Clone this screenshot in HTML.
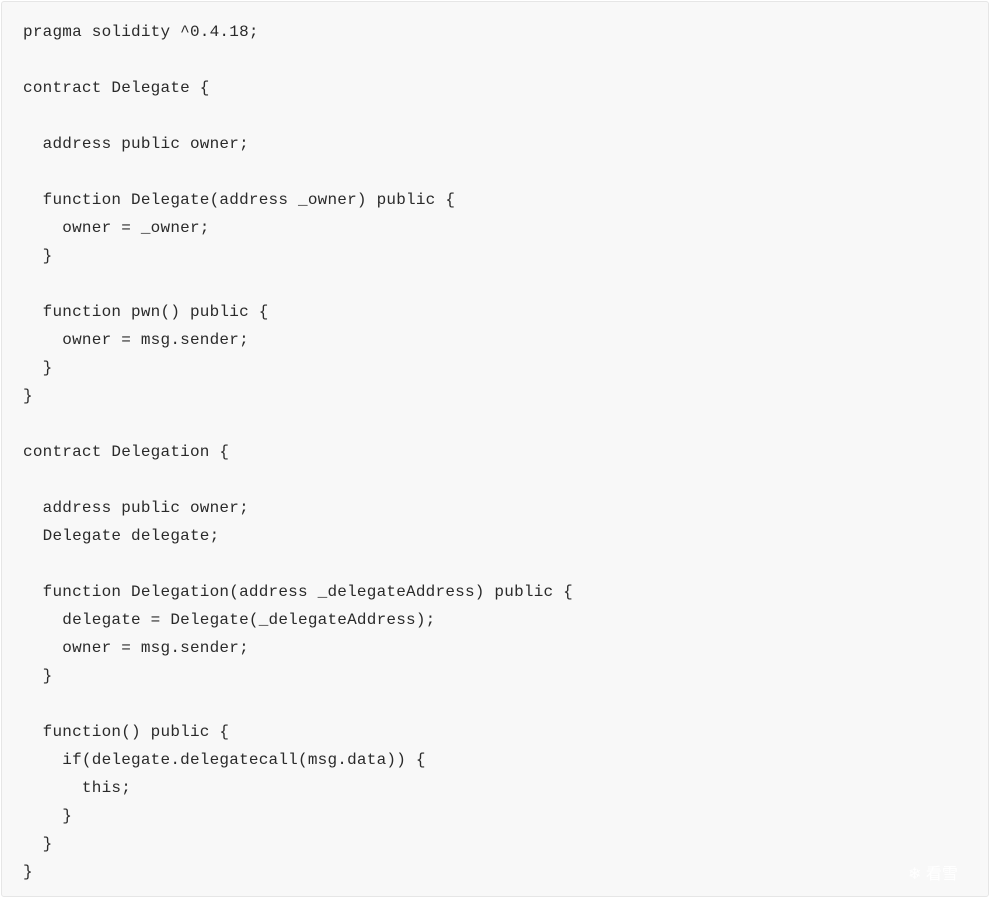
<!DOCTYPE html>
<html><head><meta charset="utf-8"><style>
html,body{margin:0;padding:0;background:#fff;width:995px;height:902px;overflow:hidden}
.box{position:absolute;left:1px;top:1px;width:986px;height:894px;background:#f8f8f8;border:1px solid #e6e6e6;border-radius:3px}
pre{position:absolute;left:23px;top:18px;margin:0;font-family:"Liberation Mono",monospace;font-size:16px;letter-spacing:0.22px;line-height:28px;color:#2a2a2a}
.wm{position:absolute;left:908px;top:860px;color:#fff;font-family:"Liberation Sans","Noto Sans CJK SC",sans-serif;font-size:16px}
</style></head><body>
<div class="box"></div>
<pre>pragma solidity ^0.4.18;

contract Delegate {

  address public owner;

  function Delegate(address _owner) public {
    owner = _owner;
  }

  function pwn() public {
    owner = msg.sender;
  }
}

contract Delegation {

  address public owner;
  Delegate delegate;

  function Delegation(address _delegateAddress) public {
    delegate = Delegate(_delegateAddress);
    owner = msg.sender;
  }

  function() public {
    if(delegate.delegatecall(msg.data)) {
      this;
    }
  }
}</pre>
<div class="wm">❄ 看雪</div>
</body></html>
